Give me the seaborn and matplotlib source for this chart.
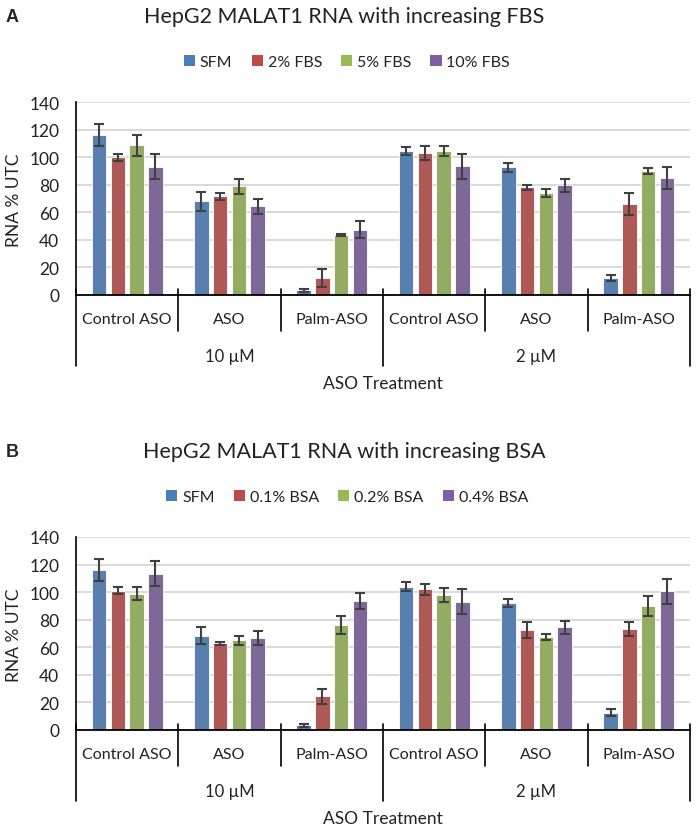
import numpy as np
import pandas as pd
import matplotlib
matplotlib.use("Agg")
import matplotlib.pyplot as plt
from matplotlib.transforms import blended_transform_factory
from matplotlib.patches import Patch
import seaborn as sns

# --- data (RNA % UTC, mean and error) ---
treatments = ["Control ASO", "ASO", "Palm-ASO"]
doses = ["10 µM", "2 µM"]
y_ticks = [0, 20, 40, 60, 80, 100, 120, 140]

fbs_levels = ["SFM", "2% FBS", "5% FBS", "10% FBS"]
fbs_sfm = [116, 68, 3.5, 104.5, 92.5, 12.5]
fbs_2 = [100, 71.5, 12, 103, 78, 66]
fbs_5 = [108.5, 79, 43.5, 104.5, 74, 90]
fbs_10 = [93, 64.5, 47.5, 93.5, 79.5, 85]
fbs_sfm_err = [8, 7, 1, 3, 3, 2]
fbs_2_err = [2.5, 2.5, 6.5, 5, 1.7, 8]
fbs_5_err = [7.5, 5.5, 0.5, 3.5, 3, 2.4]
fbs_10_err = [9, 5.5, 6, 9, 4.5, 8]

bsa_levels = ["SFM", "0.1% BSA", "0.2% BSA", "0.4% BSA"]
bsa_sfm = [116, 68.5, 3.5, 104, 92, 12.5]
bsa_01 = [101, 63, 24.5, 102, 72.5, 73]
bsa_02 = [99, 65, 76.5, 98, 67.5, 90]
bsa_04 = [113.5, 66.5, 93.5, 93, 74.5, 100.5]
bsa_sfm_err = [8, 6, 1, 3.5, 3, 2.5]
bsa_01_err = [2.5, 1, 5.5, 4, 5.5, 5]
bsa_02_err = [4.5, 3.5, 6.5, 5, 2, 7.5]
bsa_04_err = [9, 5, 6, 9, 4.5, 9]

colors = ["#4A7EBB", "#BE4B48", "#98B954", "#7D60A0"]

W, H = 696, 829


def fx(px):
    return px / W


def fy(px):
    return 1 - px / H


sns.set_style("white")
plt.rcParams['font.family'] = ['Lato', 'DejaVu Sans']

fig = plt.figure(figsize=(W / 100, H / 100), dpi=100)


def draw_panel(top, letter, title, levels, means, errs):
    ax = fig.add_axes([fx(76), fy(top + 296), fx(690) - fx(76), (296 - 103) / H])

    slots = [f"{t}\n{d}" for d in doses for t in treatments]
    rows = []
    for lev, vals in zip(levels, means):
        for s, v in zip(slots, vals):
            rows.append({"slot": s, "level": lev, "value": v})
    df = pd.DataFrame(rows)

    sns.barplot(data=df, x="slot", y="value", hue="level", order=slots,
                hue_order=levels, palette=colors, width=0.735, gap=0.23,
                errorbar=None, edgecolor="white", linewidth=0.6,
                legend=False, ax=ax)

    # error bars on top of each bar
    for cont, err in zip(ax.containers, errs):
        xs = [b.get_x() + b.get_width() / 2 for b in cont]
        ys = [b.get_height() for b in cont]
        ax.errorbar(xs, ys, yerr=err, fmt="none", ecolor="#404040",
                    elinewidth=1.5, capsize=3.3, capthick=1.5, zorder=5)

    ax.set_xlim(-0.5, 5.5)
    ax.set_ylim(0, 140)
    ax.set_yticks(y_ticks)
    ax.yaxis.grid(True, color="#d9d9d9", lw=1.4)
    ax.set_axisbelow(True)
    for s in ["top", "right"]:
        ax.spines[s].set_visible(False)
    ax.spines["left"].set_color("black")
    ax.spines["left"].set_linewidth(1.2)
    ax.spines["bottom"].set_color("black")
    ax.spines["bottom"].set_linewidth(1.3)
    ax.set_xlabel("")
    ax.set_ylabel("")
    ax.set_xticks(range(6))
    ax.set_xticklabels([])
    ax.tick_params(axis="x", length=4, width=1.2, color="black", direction="out")
    ax.tick_params(axis="y", length=0, pad=12, labelsize=12.5, labelcolor="#222222")

    trans = blended_transform_factory(ax.transData, fig.transFigure)
    for x in [0.5, 1.5, 3.5, 4.5]:
        ax.plot([x, x], [fy(top + 290), fy(top + 332)], transform=trans,
                color="black", lw=1.2, clip_on=False)
    for x in [-0.5, 2.5, 5.5]:
        ax.plot([x, x], [fy(top + 290), fy(top + 367)], transform=trans,
                color="black", lw=1.2, clip_on=False)

    for j in range(6):
        ax.text(j, fy(top + 320), treatments[j % 3], transform=trans,
                ha="center", va="center", fontsize=11.5, color="#222222")
    for k, d in enumerate(doses):
        ax.text(1 + 3 * k, fy(top + 357), d, transform=trans,
                ha="center", va="center", fontsize=12, color="#222222")
    ax.text(2.5, fy(top + 384), "ASO Treatment", transform=trans,
            ha="center", va="center", fontsize=12.5, color="#222222")

    fig.text(fx(14), fy(top + 200), "RNA % UTC", rotation=90,
             ha="center", va="center", fontsize=12.5, color="#222222")
    fig.text(fx(344), fy(top + 17), title, ha="center", va="center",
             fontsize=15.5, color="#222222")
    fig.text(fx(6), fy(top + 18), letter, ha="left", va="center",
             fontsize=13, fontweight="bold", family="Liberation Sans")

    handles = [Patch(facecolor=c, edgecolor="none") for c in colors]
    fig.legend(handles, levels, loc="center", bbox_to_anchor=(fx(347), fy(top + 63)),
               ncol=4, frameon=False, handlelength=0.7, handleheight=0.7,
               handletextpad=0.3, columnspacing=1.2, fontsize=11.5,
               labelcolor="#222222")
    return ax


draw_panel(0, "A", "HepG2 MALAT1 RNA with increasing FBS", fbs_levels,
           [fbs_sfm, fbs_2, fbs_5, fbs_10],
           [fbs_sfm_err, fbs_2_err, fbs_5_err, fbs_10_err])
draw_panel(435, "B", "HepG2 MALAT1 RNA with increasing BSA", bsa_levels,
           [bsa_sfm, bsa_01, bsa_02, bsa_04],
           [bsa_sfm_err, bsa_01_err, bsa_02_err, bsa_04_err])

fig.savefig("out.png", dpi=100)
